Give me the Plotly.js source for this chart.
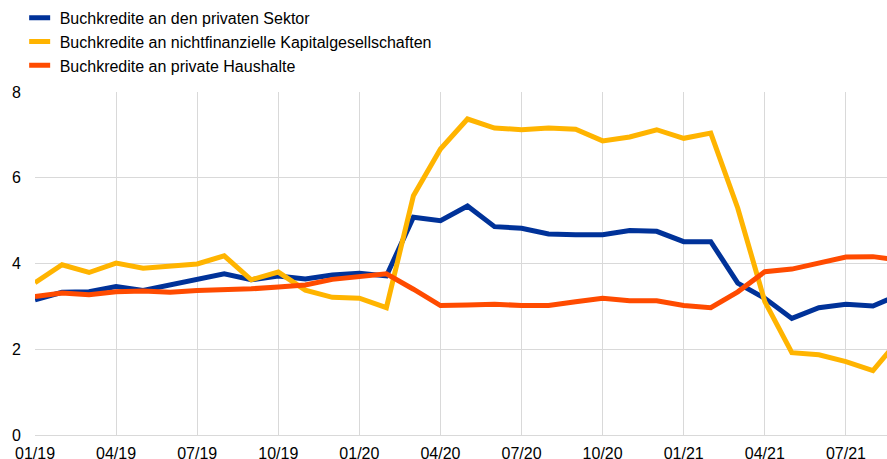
<!DOCTYPE html>
<html>
<head>
<meta charset="utf-8">
<script src="https://cdn.plot.ly/plotly-3.0.1.min.js"></script>
<style>
html,body{margin:0;padding:0;background:#fff;}
#chart{width:887px;height:459px;}
</style>
</head>
<body>
<div id="chart"></div>
<script>
const months = ["01/19","02/19","03/19","04/19","05/19","06/19","07/19","08/19","09/19","10/19","11/19","12/19",
  "01/20","02/20","03/20","04/20","05/20","06/20","07/20","08/20","09/20","10/20","11/20","12/20",
  "01/21","02/21","03/21","04/21","05/21","06/21","07/21","08/21","09/21"];
const tickLabels = ["01/19","04/19","07/19","10/19","01/20","04/20","07/20","10/20","01/21","04/21","07/21"];
const privateSector = [3.15,3.33,3.34,3.46,3.37,3.50,3.62,3.76,3.62,3.71,3.64,3.73,
  3.77,3.71,5.08,5.00,5.34,4.86,4.82,4.69,4.67,4.67,4.77,4.75,
  4.51,4.51,3.54,3.19,2.72,2.97,3.05,3.01,3.28];
const nfc = [3.55,3.97,3.79,4.01,3.89,3.94,3.99,4.18,3.62,3.80,3.38,3.21,
  3.19,2.97,5.58,6.67,7.37,7.16,7.12,7.16,7.13,6.86,6.95,7.12,
  6.92,7.04,5.29,3.11,1.92,1.87,1.71,1.50,2.25];
const households = [3.23,3.31,3.27,3.34,3.36,3.33,3.37,3.38,3.41,3.45,3.50,3.63,
  3.69,3.76,3.40,3.02,3.03,3.05,3.02,3.02,3.11,3.19,3.13,3.13,
  3.02,2.97,3.34,3.81,3.87,4.02,4.15,4.16,4.08];
const seriesNames = ["Buchkredite an den privaten Sektor","Buchkredite an nichtfinanzielle Kapitalgesellschaften","Buchkredite an private Haushalte"];
const colors = ["#003299","#FFB400","#FF4B00"];
const series = [privateSector, nfc, households];

const traces = [];
series.forEach((s, k) => {
  traces.push({x: months, y: s, type: 'scatter', mode: 'lines', name: seriesNames[k],
    line: {color: colors[k], width: 5}, showlegend: false, hoverinfo: 'x+y'});
});
series.forEach((s, k) => {
  traces.push({x: [null], y: [null], type: 'scatter', mode: 'markers', name: seriesNames[k],
    marker: {symbol: 'line-ew', size: 15, color: colors[k], line: {color: colors[k], width: 5}},
    showlegend: true, hoverinfo: 'skip'});
});

const layout = {
  width: 887, height: 459,
  margin: {l: 35, r: 0, t: 92, b: 24, pad: 0},
  paper_bgcolor: '#fff', plot_bgcolor: '#fff',
  font: {family: 'Liberation Sans, Arial, sans-serif', size: 16, color: '#000'},
  showlegend: true,
  legend: {x: -0.018, y: 1.266, xanchor: 'left', yanchor: 'top', orientation: 'v',
    font: {size: 16, color: '#000'}, bgcolor: 'rgba(0,0,0,0)', tracegroupgap: 0, itemwidth: 30},
  xaxis: {type: 'category', range: [0, 31.52], tickmode: 'array', tickvals: tickLabels, ticktext: tickLabels,
    showgrid: true, gridcolor: '#d9d9d9', gridwidth: 1, showline: true, linecolor: '#d9d9d9', linewidth: 1,
    ticks: '', ticklabelstandoff: 4, tickfont: {size: 16}, zeroline: false, fixedrange: true},
  yaxis: {range: [0, 8], tickvals: [0,2,4,6,8], showgrid: true, gridcolor: '#d9d9d9', gridwidth: 1,
    showline: false, zeroline: false, ticks: '', ticklabelstandoff: 13, tickfont: {size: 16}, fixedrange: true}
};

Plotly.newPlot('chart', traces, layout, {displayModeBar: false, staticPlot: true});
</script>
</body>
</html>
